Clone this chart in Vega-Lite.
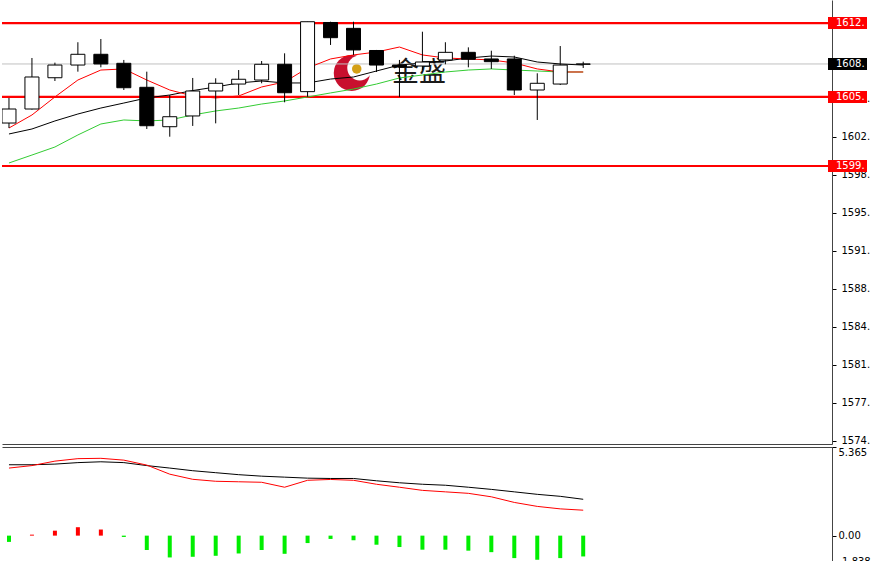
{
  "$schema": "https://vega.github.io/schema/vega-lite/v6.json",
  "padding": {"left": 0, "top": 0, "right": 0, "bottom": 0},
  "background": "white",
  "spacing": 0,
  "config": {"view": {"stroke": null}, "font": "DejaVu Sans"},
  "datasets": {
    "candles": [
      {"i": 0, "open": 1603.26, "high": 1605.57, "low": 1602.80, "close": 1604.55, "maFast": 1602.80, "maMid": 1602.25, "maSlow": 1599.58},
      {"i": 1, "open": 1604.55, "high": 1609.25, "low": 1604.50, "close": 1607.50, "maFast": 1604.00, "maMid": 1602.71, "maSlow": 1600.31},
      {"i": 2, "open": 1607.43, "high": 1608.82, "low": 1607.13, "close": 1608.60, "maFast": 1605.66, "maMid": 1603.45, "maSlow": 1601.05},
      {"i": 3, "open": 1608.60, "high": 1610.70, "low": 1607.99, "close": 1609.59, "maFast": 1607.22, "maMid": 1604.09, "maSlow": 1602.16},
      {"i": 4, "open": 1609.59, "high": 1611.00, "low": 1608.39, "close": 1608.70, "maFast": 1608.14, "maMid": 1604.64, "maSlow": 1603.17},
      {"i": 5, "open": 1608.76, "high": 1609.07, "low": 1606.30, "close": 1606.51, "maFast": 1608.24, "maMid": 1605.10, "maSlow": 1603.54},
      {"i": 6, "open": 1606.55, "high": 1607.99, "low": 1602.71, "close": 1603.01, "maFast": 1607.22, "maMid": 1605.57, "maSlow": 1603.45},
      {"i": 7, "open": 1602.92, "high": 1605.84, "low": 1602.00, "close": 1603.84, "maFast": 1606.30, "maMid": 1605.84, "maSlow": 1603.54},
      {"i": 8, "open": 1603.91, "high": 1607.41, "low": 1602.99, "close": 1606.21, "maFast": 1605.75, "maMid": 1606.25, "maSlow": 1604.00},
      {"i": 9, "open": 1606.21, "high": 1607.38, "low": 1603.23, "close": 1606.92, "maFast": 1605.57, "maMid": 1606.58, "maSlow": 1604.37},
      {"i": 10, "open": 1606.85, "high": 1608.14, "low": 1605.84, "close": 1607.29, "maFast": 1605.75, "maMid": 1606.95, "maSlow": 1604.64},
      {"i": 11, "open": 1607.22, "high": 1608.97, "low": 1606.92, "close": 1608.67, "maFast": 1606.58, "maMid": 1607.13, "maSlow": 1605.01},
      {"i": 12, "open": 1608.67, "high": 1609.68, "low": 1605.17, "close": 1606.05, "maFast": 1607.04, "maMid": 1606.95, "maSlow": 1605.29},
      {"i": 13, "open": 1606.15, "high": 1612.59, "low": 1605.68, "close": 1612.59, "maFast": 1608.33, "maMid": 1606.95, "maSlow": 1605.66},
      {"i": 14, "open": 1612.52, "high": 1612.59, "low": 1610.45, "close": 1611.12, "maFast": 1609.16, "maMid": 1607.31, "maSlow": 1606.03},
      {"i": 15, "open": 1611.98, "high": 1612.59, "low": 1609.53, "close": 1609.99, "maFast": 1609.53, "maMid": 1607.50, "maSlow": 1606.39},
      {"i": 16, "open": 1609.94, "high": 1609.99, "low": 1607.96, "close": 1608.60, "maFast": 1609.80, "maMid": 1608.05, "maSlow": 1606.85},
      {"i": 17, "open": 1608.60, "high": 1609.07, "low": 1605.66, "close": 1608.42, "maFast": 1610.26, "maMid": 1608.60, "maSlow": 1607.41},
      {"i": 18, "open": 1608.51, "high": 1611.67, "low": 1608.14, "close": 1608.88, "maFast": 1609.53, "maMid": 1608.79, "maSlow": 1607.68},
      {"i": 19, "open": 1609.07, "high": 1610.70, "low": 1608.67, "close": 1609.77, "maFast": 1609.25, "maMid": 1608.97, "maSlow": 1607.96},
      {"i": 20, "open": 1609.77, "high": 1610.23, "low": 1608.39, "close": 1609.13, "maFast": 1609.16, "maMid": 1609.25, "maSlow": 1608.14},
      {"i": 21, "open": 1609.16, "high": 1609.92, "low": 1608.24, "close": 1608.91, "maFast": 1609.07, "maMid": 1609.43, "maSlow": 1608.24},
      {"i": 22, "open": 1609.16, "high": 1609.46, "low": 1605.84, "close": 1606.30, "maFast": 1608.79, "maMid": 1609.34, "maSlow": 1608.14},
      {"i": 23, "open": 1606.30, "high": 1607.84, "low": 1603.54, "close": 1606.92, "maFast": 1608.24, "maMid": 1608.88, "maSlow": 1608.05},
      {"i": 24, "open": 1606.85, "high": 1610.35, "low": 1606.76, "close": 1608.60, "maFast": 1607.96, "maMid": 1608.70, "maSlow": 1607.96},
      {"i": 25, "open": 1608.67, "high": 1608.91, "low": 1608.33, "close": 1608.70, "maFast": 1607.96, "maMid": 1608.60, "maSlow": 1607.96}
    ],
    "macd": [
      {"i": 0, "macd": 4.29, "signal": 4.09, "hist": -0.38},
      {"i": 1, "macd": 4.29, "signal": 4.24, "hist": 0.06},
      {"i": 2, "macd": 4.33, "signal": 4.51, "hist": 0.30},
      {"i": 3, "macd": 4.42, "signal": 4.66, "hist": 0.51},
      {"i": 4, "macd": 4.47, "signal": 4.68, "hist": 0.37},
      {"i": 5, "macd": 4.42, "signal": 4.57, "hist": -0.08},
      {"i": 6, "macd": 4.24, "signal": 4.27, "hist": -0.87},
      {"i": 7, "macd": 4.09, "signal": 3.72, "hist": -1.32},
      {"i": 8, "macd": 3.93, "signal": 3.41, "hist": -1.28},
      {"i": 9, "macd": 3.81, "signal": 3.29, "hist": -1.22},
      {"i": 10, "macd": 3.69, "signal": 3.26, "hist": -1.08},
      {"i": 11, "macd": 3.60, "signal": 3.23, "hist": -0.87},
      {"i": 12, "macd": 3.54, "signal": 2.93, "hist": -1.10},
      {"i": 13, "macd": 3.48, "signal": 3.35, "hist": -0.45},
      {"i": 14, "macd": 3.46, "signal": 3.40, "hist": -0.20},
      {"i": 15, "macd": 3.46, "signal": 3.35, "hist": -0.28},
      {"i": 16, "macd": 3.32, "signal": 3.11, "hist": -0.55},
      {"i": 17, "macd": 3.20, "signal": 2.93, "hist": -0.69},
      {"i": 18, "macd": 3.11, "signal": 2.74, "hist": -0.85},
      {"i": 19, "macd": 3.05, "signal": 2.65, "hist": -0.85},
      {"i": 20, "macd": 2.93, "signal": 2.56, "hist": -0.91},
      {"i": 21, "macd": 2.80, "signal": 2.35, "hist": -1.00},
      {"i": 22, "macd": 2.65, "signal": 2.01, "hist": -1.36},
      {"i": 23, "macd": 2.50, "signal": 1.77, "hist": -1.46},
      {"i": 24, "macd": 2.38, "signal": 1.62, "hist": -1.36},
      {"i": 25, "macd": 2.20, "signal": 1.54, "hist": -1.26}
    ],
    "levels": [
      {"level": 1612.47, "label": "1612."},
      {"level": 1605.66, "label": "1605."},
      {"level": 1599.30, "label": "1599."}
    ],
    "price": [
      {"level": 1608.70, "label": "1608."}
    ],
    "logo": [
      {"part": "ring", "i": 14.925, "price": 1607.87},
      {"part": "cut", "i": 15.27, "price": 1608.33},
      {"part": "ball", "i": 15.14, "price": 1608.24}
    ],
    "watermark": [
      {"i": 17.85, "price": 1607.87, "label": "金盛"}
    ]
  },
  "vconcat": [
    {
      "width": 830,
      "height": 444,
      "layer": [
        {
          "data": {"name": "logo"},
          "transform": [{"filter": "datum.part == 'ring'"}],
          "mark": {"type": "point", "filled": true, "size": 1300, "color": "#c8102e", "opacity": 1},
          "encoding": {
            "x": {"field": "i", "type": "quantitative", "scale": {"domain": [-0.086, 35.614], "nice": false, "zero": false}, "axis": {"labels": false, "ticks": false, "domain": true, "domainColor": "#444", "grid": false, "title": null}},
            "y": {"field": "price", "type": "quantitative", "scale": {"domain": [1573.695, 1614.591], "nice": false, "zero": false},
                  "axis": {"orient": "right", "title": null, "grid": false, "values": [1574.0, 1577.5, 1581.0, 1584.5, 1588.0, 1591.5, 1595.0, 1598.5, 1602.0, 1605.5],
                           "labelExpr": "floor(datum.value) + '.'", "labelFont": "DejaVu Sans", "labelFontSize": 10, "labelColor": "#000000", "tickColor": "#000000", "tickSize": 4, "labelPadding": 5, "domainColor": "#444444", "labelOverlap": false}}
          }
        },
        {
          "data": {"name": "logo"},
          "transform": [{"filter": "datum.part == 'cut'"}],
          "mark": {"type": "point", "filled": true, "size": 620, "color": "#ffffff", "opacity": 1},
          "encoding": {
            "x": {"field": "i", "type": "quantitative", "scale": {"domain": [-0.086, 35.614], "nice": false, "zero": false}},
            "y": {"field": "price", "type": "quantitative", "scale": {"domain": [1573.695, 1614.591], "nice": false, "zero": false}}
          }
        },
        {
          "data": {"name": "logo"},
          "transform": [{"filter": "datum.part == 'ball'"}],
          "mark": {"type": "point", "filled": true, "size": 90, "color": "#d4a017", "opacity": 1},
          "encoding": {
            "x": {"field": "i", "type": "quantitative", "scale": {"domain": [-0.086, 35.614], "nice": false, "zero": false}},
            "y": {"field": "price", "type": "quantitative", "scale": {"domain": [1573.695, 1614.591], "nice": false, "zero": false}}
          }
        },
        {
          "data": {"name": "watermark"},
          "mark": {"type": "text", "font": "Noto Sans CJK SC", "fontSize": 27, "fontWeight": "normal", "color": "#1a1a1a", "align": "center", "baseline": "middle"},
          "encoding": {
            "x": {"field": "i", "type": "quantitative", "scale": {"domain": [-0.086, 35.614], "nice": false, "zero": false}},
            "y": {"field": "price", "type": "quantitative", "scale": {"domain": [1573.695, 1614.591], "nice": false, "zero": false}},
            "text": {"field": "label"}
          }
        },
        {
          "data": {"name": "price"},
          "mark": {"type": "rule", "color": "#c0c0c0", "strokeWidth": 1},
          "encoding": {
            "y": {"field": "level", "type": "quantitative", "scale": {"domain": [1573.695, 1614.591], "nice": false, "zero": false}}
          }
        },
        {
          "data": {"name": "levels"},
          "mark": {"type": "rule", "color": "#ff0000", "strokeWidth": 2.2},
          "encoding": {
            "y": {"field": "level", "type": "quantitative", "scale": {"domain": [1573.695, 1614.591], "nice": false, "zero": false}}
          }
        },
        {
          "data": {"name": "candles"},
          "mark": {"type": "line", "color": "#33cc33", "strokeWidth": 1},
          "encoding": {
            "x": {"field": "i", "type": "quantitative", "scale": {"domain": [-0.086, 35.614], "nice": false, "zero": false}},
            "y": {"field": "maSlow", "type": "quantitative", "scale": {"domain": [1573.695, 1614.591], "nice": false, "zero": false}}
          }
        },
        {
          "data": {"name": "candles"},
          "mark": {"type": "line", "color": "#000000", "strokeWidth": 1},
          "encoding": {
            "x": {"field": "i", "type": "quantitative", "scale": {"domain": [-0.086, 35.614], "nice": false, "zero": false}},
            "y": {"field": "maMid", "type": "quantitative", "scale": {"domain": [1573.695, 1614.591], "nice": false, "zero": false}}
          }
        },
        {
          "data": {"name": "candles"},
          "mark": {"type": "line", "color": "#ff0000", "strokeWidth": 1},
          "encoding": {
            "x": {"field": "i", "type": "quantitative", "scale": {"domain": [-0.086, 35.614], "nice": false, "zero": false}},
            "y": {"field": "maFast", "type": "quantitative", "scale": {"domain": [1573.695, 1614.591], "nice": false, "zero": false}}
          }
        },
        {
          "data": {"name": "candles"},
          "mark": {"type": "rule", "color": "#000000", "strokeWidth": 1, "clip": true},
          "encoding": {
            "x": {"field": "i", "type": "quantitative", "scale": {"domain": [-0.086, 35.614], "nice": false, "zero": false}},
            "y": {"field": "low", "type": "quantitative", "scale": {"domain": [1573.695, 1614.591], "nice": false, "zero": false}},
            "y2": {"field": "high"}
          }
        },
        {
          "data": {"name": "candles"},
          "mark": {"type": "bar", "orient": "vertical", "size": 14, "stroke": "#000000", "strokeWidth": 1, "clip": true},
          "encoding": {
            "x": {"field": "i", "type": "quantitative", "scale": {"domain": [-0.086, 35.614], "nice": false, "zero": false}},
            "y": {"field": "open", "type": "quantitative", "scale": {"domain": [1573.695, 1614.591], "nice": false, "zero": false}},
            "y2": {"field": "close"},
            "fill": {"condition": {"test": "datum.close >= datum.open", "value": "#ffffff"}, "value": "#000000"}
          }
        },
        {
          "data": {"name": "levels"},
          "mark": {"type": "rect", "color": "#ff0000", "xOffset": 1, "x2Offset": 40, "yOffset": -6, "y2Offset": 6},
          "encoding": {
            "x": {"datum": 35.614, "type": "quantitative", "scale": {"domain": [-0.086, 35.614], "nice": false, "zero": false}},
            "x2": {"datum": 35.614},
            "y": {"field": "level", "type": "quantitative", "scale": {"domain": [1573.695, 1614.591], "nice": false, "zero": false}},
            "y2": {"field": "level"}
          }
        },
        {
          "data": {"name": "levels"},
          "mark": {"type": "text", "color": "#ffffff", "font": "DejaVu Sans", "fontSize": 10, "align": "left", "baseline": "middle", "dx": 9},
          "encoding": {
            "x": {"datum": 35.614, "type": "quantitative", "scale": {"domain": [-0.086, 35.614], "nice": false, "zero": false}},
            "y": {"field": "level", "type": "quantitative", "scale": {"domain": [1573.695, 1614.591], "nice": false, "zero": false}},
            "text": {"field": "label"}
          }
        },
        {
          "data": {"name": "price"},
          "mark": {"type": "rect", "color": "#000000", "xOffset": 1, "x2Offset": 40, "yOffset": -6, "y2Offset": 6},
          "encoding": {
            "x": {"datum": 35.614, "type": "quantitative", "scale": {"domain": [-0.086, 35.614], "nice": false, "zero": false}},
            "x2": {"datum": 35.614},
            "y": {"field": "level", "type": "quantitative", "scale": {"domain": [1573.695, 1614.591], "nice": false, "zero": false}},
            "y2": {"field": "level"}
          }
        },
        {
          "data": {"name": "price"},
          "mark": {"type": "text", "color": "#ffffff", "font": "DejaVu Sans", "fontSize": 10, "align": "left", "baseline": "middle", "dx": 9},
          "encoding": {
            "x": {"datum": 35.614, "type": "quantitative", "scale": {"domain": [-0.086, 35.614], "nice": false, "zero": false}},
            "y": {"field": "level", "type": "quantitative", "scale": {"domain": [1573.695, 1614.591], "nice": false, "zero": false}},
            "text": {"field": "label"}
          }
        }
      ]
    },
    {
      "width": 830,
      "height": 119,
      "data": {"name": "macd"},
      "layer": [
        {
          "mark": {"type": "bar", "orient": "vertical", "size": 4},
          "encoding": {
            "x": {"field": "i", "type": "quantitative", "scale": {"domain": [-0.086, 35.614], "nice": false, "zero": false}, "axis": {"orient": "top", "labels": false, "ticks": false, "domain": true, "domainColor": "#444", "grid": false, "title": null}},
            "y": {"field": "hist", "type": "quantitative", "scale": {"domain": [-1.838, 5.365], "nice": false, "zero": false},
                  "axis": {"orient": "right", "title": null, "grid": false, "values": [5.365, 0, -1.838], "labelExpr": "datum.value == 0 ? '0.00' : '' + datum.value", "labelFlush": true, "labelFont": "DejaVu Sans", "labelFontSize": 10, "labelColor": "#000000", "tickColor": "#000000", "tickSize": 4, "labelPadding": 2, "domainColor": "#444444", "labelOverlap": false}},
            "y2": {"datum": 0},
            "fill": {"condition": {"test": "datum.hist > 0", "value": "#ff0000"}, "value": "#00ee00"}
          }
        },
        {
          "mark": {"type": "line", "color": "#000000", "strokeWidth": 1},
          "encoding": {
            "x": {"field": "i", "type": "quantitative", "scale": {"domain": [-0.086, 35.614], "nice": false, "zero": false}},
            "y": {"field": "macd", "type": "quantitative", "scale": {"domain": [-1.838, 5.365], "nice": false, "zero": false}}
          }
        },
        {
          "mark": {"type": "line", "color": "#ff0000", "strokeWidth": 1},
          "encoding": {
            "x": {"field": "i", "type": "quantitative", "scale": {"domain": [-0.086, 35.614], "nice": false, "zero": false}},
            "y": {"field": "signal", "type": "quantitative", "scale": {"domain": [-1.838, 5.365], "nice": false, "zero": false}}
          }
        }
      ]
    }
  ]
}
